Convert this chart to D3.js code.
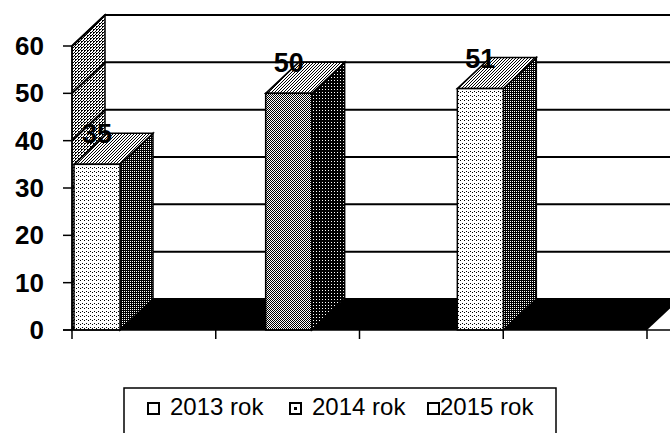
<!DOCTYPE html>
<html lang="pl">

<head>
  <meta charset="UTF-8">
  <title>Wykres</title>
  <style>
    body { margin: 0; background: #fff; }
    text { font-family: "Liberation Sans", Arial, sans-serif; }
  </style>
</head>

<body>
  <script src="https://d3js.org/d3.v7.min.js"></script>
  <div id="chart"></div>

  <script>
    // data
    var years = ["2013 rok", "2014 rok", "2015 rok"];
    var values = [35, 50, 51];
    var yTicks = [0, 10, 20, 30, 40, 50, 60];
    var catTicks = [0, 1, 2, 3, 4];

    var width = 670, height = 433;
    var left = 72, right = 647;
    var dx = 33, dy = -31; // 3d depth offset

    var svg = d3.select("#chart").append("svg")
      .attr("width", width)
      .attr("height", height);

    // halftone-ish fills
    var defs = svg.append("defs");
    function pattern(id, size, dots) {
      var p = defs.append("pattern")
        .attr("id", id)
        .attr("patternUnits", "userSpaceOnUse")
        .attr("width", size).attr("height", size);
      p.append("rect").attr("width", size).attr("height", size).attr("fill", "#fff");
      dots.forEach(function (d) {
        p.append("rect").attr("x", d[0]).attr("y", d[1]).attr("width", 1).attr("height", 1).attr("fill", "#000");
      });
    }
    pattern("light", 4, [[0, 0], [2, 3]]);
    pattern("mid", 2, [[0, 0], [1, 1]]);
    pattern("top", 3, [[0, 0], [2, 1], [1, 2]]);
    pattern("wall", 3, [[0, 0], [2, 1], [1, 2], [0, 2]]);
    pattern("dark", 2, [[0, 0], [1, 1], [1, 0]]);
    pattern("darker", 3, [[0, 0], [1, 0], [2, 0], [0, 1], [1, 1], [2, 1], [0, 2], [2, 2]]);

    var frontFill = ["url(#light)", "url(#mid)", "url(#light)"];
    var sideFill = ["url(#dark)", "url(#darker)", "url(#dark)"];

    var y = d3.scaleLinear().domain([0, 60]).range([330, 46]);
    var x = d3.scaleBand().domain(years).range([left, right]);
    var xt = d3.scaleLinear().domain([0, 4]).range([left, right]);
    var bw = x.bandwidth() * 0.24;

    function poly(pts) { return "M" + pts.map(function (p) { return p.join(","); }).join("L") + "Z"; }

    // back wall
    svg.append("rect")
      .attr("x", left + dx).attr("y", y(60) + dy)
      .attr("width", width).attr("height", y(0) - y(60))
      .attr("fill", "#fff");

    // side wall
    svg.append("path")
      .attr("d", poly([[left, y(0)], [left, y(60)], [left + dx, y(60) + dy], [left + dx, y(0) + dy]]))
      .attr("fill", "url(#wall)")
      .attr("stroke", "#000").attr("stroke-width", 1.5);

    // gridlines
    svg.selectAll(".grid")
      .data(yTicks).enter()
      .append("path")
      .attr("class", "grid")
      .attr("d", function (d) {
        return "M" + left + "," + y(d) + "L" + (left + dx) + "," + (y(d) + dy) + "L" + (right + dx) + "," + (y(d) + dy);
      })
      .attr("fill", "none")
      .attr("stroke", "#000").attr("stroke-width", 2);

    // floor
    svg.append("path")
      .attr("d", poly([[left, y(0)], [left + dx, y(0) + dy], [right + dx, y(0) + dy], [right, y(0)]]))
      .attr("fill", "#000");

    // bars
    var bars = svg.selectAll(".bar")
      .data(values).enter()
      .append("g").attr("class", "bar");

    bars.append("path")
      .attr("d", function (d, i) {
        var b = x(years[i]) + 2 + bw;
        return poly([[b, y(0)], [b + dx, y(0) + dy], [b + dx, y(d) + dy], [b, y(d)]]);
      })
      .attr("fill", function (d, i) { return sideFill[i]; })
      .attr("stroke", "#000").attr("stroke-width", 1.5);

    bars.append("path")
      .attr("d", function (d, i) {
        var a = x(years[i]) + 2;
        return poly([[a, y(d)], [a + dx, y(d) + dy], [a + bw + dx, y(d) + dy], [a + bw, y(d)]]);
      })
      .attr("fill", "url(#top)")
      .attr("stroke", "#000").attr("stroke-width", 1.5);

    bars.append("rect")
      .attr("x", function (d, i) { return x(years[i]) + 2; })
      .attr("y", function (d) { return y(d); })
      .attr("width", bw)
      .attr("height", function (d) { return y(0) - y(d); })
      .attr("fill", function (d, i) { return frontFill[i]; })
      .attr("stroke", "#000").attr("stroke-width", 1.5);

    bars.append("text")
      .attr("x", function (d, i) { return x(years[i]) + 2 + bw / 2; })
      .attr("y", function (d) { return y(d) - 21; })
      .attr("text-anchor", "middle")
      .style("font-size", "27px").style("font-weight", "bold")
      .text(function (d) { return d; });

    // value axis
    svg.append("line")
      .attr("x1", left).attr("x2", left)
      .attr("y1", y(60)).attr("y2", y(0))
      .attr("stroke", "#000").attr("stroke-width", 1.5);
    var yAxis = svg.selectAll(".ytick")
      .data(yTicks).enter()
      .append("g").attr("class", "ytick");
    yAxis.append("line")
      .attr("x1", left - 9).attr("x2", left)
      .attr("y1", function (d) { return y(d); }).attr("y2", function (d) { return y(d); })
      .attr("stroke", "#000").attr("stroke-width", 1.5);
    yAxis.append("text")
      .attr("x", 44)
      .attr("y", function (d) { return y(d) + 9; })
      .attr("text-anchor", "end")
      .style("font-size", "26px").style("font-weight", "bold")
      .text(function (d) { return d; });

    // category axis
    svg.append("line")
      .attr("x1", left - 9).attr("x2", width)
      .attr("y1", y(0)).attr("y2", y(0))
      .attr("stroke", "#000").attr("stroke-width", 1.5);
    svg.selectAll(".xtick")
      .data(catTicks).enter()
      .append("line")
      .attr("x1", function (d) { return xt(d); }).attr("x2", function (d) { return xt(d); })
      .attr("y1", y(0)).attr("y2", y(0) + 9)
      .attr("stroke", "#000").attr("stroke-width", 1.5);

    // legend
    svg.append("rect")
      .attr("x", 124).attr("y", 388)
      .attr("width", 432).attr("height", 80)
      .attr("fill", "#fff")
      .attr("stroke", "#000").attr("stroke-width", 1.5);
    var legendX = [148, 290, 428];
    var lg = svg.selectAll(".leg")
      .data(years).enter()
      .append("g").attr("class", "leg")
      .attr("transform", function (d, i) { return "translate(" + legendX[i] + ",403)"; });
    lg.append("rect")
      .attr("width", 11).attr("height", 11)
      .attr("fill", "#fff")
      .attr("stroke", "#000").attr("stroke-width", 2);
    lg.filter(function (d, i) { return i == 1; })
      .append("rect")
      .attr("x", 4).attr("y", 4).attr("width", 3).attr("height", 3)
      .attr("fill", "#000");
    lg.append("text")
      .attr("x", function (d, i) { return i == 2 ? 12 : 22; })
      .attr("y", 12)
      .style("font-size", "24px")
      .text(function (d) { return d; });
  </script>
</body>

</html>
